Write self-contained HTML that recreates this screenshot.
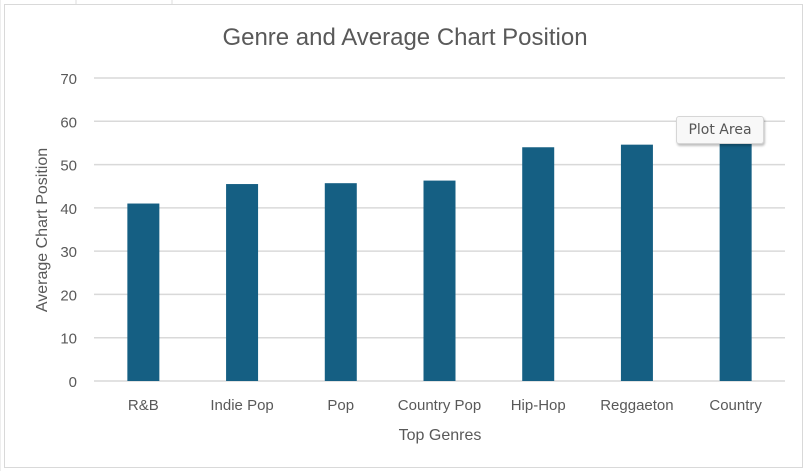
<!DOCTYPE html>
<html><head><meta charset="utf-8"><style>
body{margin:0;background:#fff;width:808px;height:471px;overflow:hidden;font-family:"Liberation Sans",sans-serif;}
svg{position:absolute;left:0;top:0}
.tip{position:absolute;left:676px;top:116px;width:86px;height:26px;background:#f8f8f8;border:1px solid #d6d6d6;border-radius:3px;box-shadow:1px 2px 2px rgba(0,0,0,.25);font-size:15px;color:#555;line-height:26px;text-align:center;font-family:"DejaVu Sans","Liberation Sans",sans-serif;font-size:14px}
</style></head><body>
<svg width="808" height="471" id="c">
<line x1="0" y1="0" x2="0" y2="471" stroke="#ddd"/>
<line x1="76" y1="0" x2="76" y2="4" stroke="#ddd"/><line x1="172" y1="0" x2="172" y2="4" stroke="#ddd"/>
<rect x="4.5" y="4.5" width="798" height="463" fill="#fff" stroke="#d9d9d9"/>
<text x="405" y="45" text-anchor="middle" font-size="24" fill="#595959">Genre and Average Chart Position</text>
<text transform="translate(47,230) rotate(-90)" text-anchor="middle" font-size="16" fill="#595959">Average Chart Position</text>
<text x="440" y="440" text-anchor="middle" font-size="16" fill="#595959">Top Genres</text>
<g id="g"></g>
</svg>
<div class="tip">Plot Area</div>
<script>
const categories=["R&B","Indie Pop","Pop","Country Pop","Hip-Hop","Reggaeton","Country"];
const values=[41,45.5,45.7,46.3,54,54.6,56];
const ticks=[0,10,20,30,40,50,60,70];
const X0=94,X1=785,Y0=381,Y70=78;
const y=v=>Y0-(v/70)*(Y0-Y70);
const bw=(X1-X0)/categories.length;
const x=i=>X0+bw*(i+0.5);
const g=document.getElementById('g');const NS="http://www.w3.org/2000/svg";
function mk(t,a){const e=document.createElementNS(NS,t);for(const k in a)e.setAttribute(k,a[k]);g.appendChild(e);return e;}
ticks.forEach(t=>{
 const l=mk('line',{x1:X0,x2:X1,y1:y(t),y2:y(t),stroke:'#d9d9d9','stroke-width':1.5});
 
 
 const tx=mk('text',{x:77,y:y(t)+6,'text-anchor':'end','font-size':15,fill:'#595959'});tx.textContent=t;
 
 
});
categories.forEach((c,i)=>{
 const r=mk('rect',{x:x(i)-16,y:y(values[i]),width:32,height:Y0-y(values[i]),fill:'#155f83'});
 
 
 const t=mk('text',{x:x(i),y:410,'text-anchor':'middle','font-size':15,fill:'#595959'});t.textContent=c;
 
 
});
</script>
</body></html>
